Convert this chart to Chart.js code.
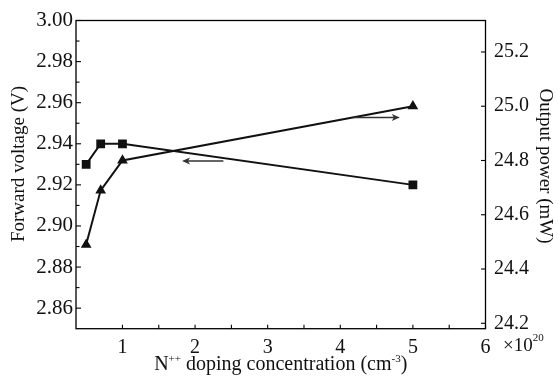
<!DOCTYPE html>
<html>
<head>
<meta charset="utf-8">
<script src="https://cdn.jsdelivr.net/npm/chart.js@4.4.1/dist/chart.umd.min.js"></script>
<style>
  body { margin: 0; background: #fff; }
  #wrap { width: 558px; height: 379px; }
</style>
</head>
<body>
<div id="wrap"><canvas id="doping" width="558" height="379"></canvas></div>
<script>
// doping concentration (x10^20 cm^-3)
const dopingConc = [0.5, 0.7, 1, 5];
// forward voltage (V), left axis
const forwardVoltage = [2.93, 2.94, 2.94, 2.92];
// output power (mW), right axis
const outputPower = [24.49, 24.69, 24.80, 25.00];

const xTicks = [1, 2, 3, 4, 5, 6];
const xMinorTicks = [1.5, 2.5, 3.5, 4.5, 5.5];
const voltTicks = [2.86, 2.88, 2.90, 2.92, 2.94, 2.96, 2.98, 3.00];
const voltMinorTicks = [2.87, 2.89, 2.91, 2.93, 2.95, 2.97, 2.99];
const powerTicks = [24.2, 24.4, 24.6, 24.8, 25.0, 25.2];

// arrows in data units: [xFrom, xTo, voltage level]
const arrowToVoltage = [2.39, 1.82, 2.9316];
const arrowToPower = [4.18, 4.82, 2.9528];

const serif = "'Liberation Serif', 'DejaVu Serif', serif";

const toPoints = (xs, ys) => xs.map((x, i) => ({x: x, y: ys[i]}));

const setTicks = (vals) => (scale) => {
  scale.ticks = vals.map(v => ({value: v}));
};

const decorPlugin = {
  id: 'decor',
  afterDraw(chart) {
    const {ctx, chartArea: a, scales} = chart;
    const sx = scales.x, sl = scales.y, sr = scales.y1;
    const seg = (x1, y1, x2, y2) => {
      ctx.beginPath(); ctx.moveTo(x1, y1); ctx.lineTo(x2, y2); ctx.stroke();
    };
    ctx.save();
    ctx.strokeStyle = '#000';
    ctx.lineWidth = 1.3;
    ctx.strokeRect(a.left, a.top, a.right - a.left, a.bottom - a.top);

    // inward tick marks
    ctx.lineWidth = 1.1;
    xTicks.concat(xMinorTicks).forEach(v => {
      const p = sx.getPixelForValue(v);
      seg(p, a.bottom, p, a.bottom - 4);
    });
    voltTicks.forEach(v => {
      const p = sl.getPixelForValue(v);
      seg(a.left, p, a.left + 5, p);
    });
    voltMinorTicks.forEach(v => {
      const p = sl.getPixelForValue(v);
      seg(a.left, p, a.left + 3.5, p);
    });
    powerTicks.forEach(v => {
      const p = sr.getPixelForValue(v);
      seg(a.right, p, a.right - 4.5, p);
    });

    // arrows
    const arrow = (spec) => {
      const x1 = sx.getPixelForValue(spec[0]);
      const x2 = sx.getPixelForValue(spec[1]);
      const y = sl.getPixelForValue(spec[2]);
      const dir = Math.sign(x2 - x1);
      ctx.strokeStyle = '#333';
      ctx.fillStyle = '#333';
      ctx.lineWidth = 1.6;
      seg(x1, y, x2 - dir * 5, y);
      ctx.beginPath();
      ctx.moveTo(x2, y);
      ctx.lineTo(x2 - dir * 8, y - 3.5);
      ctx.lineTo(x2 - dir * 6, y);
      ctx.lineTo(x2 - dir * 8, y + 3.5);
      ctx.closePath();
      ctx.fill();
    };
    arrow(arrowToVoltage);
    arrow(arrowToPower);

    // axis titles
    ctx.fillStyle = '#111';
    ctx.textBaseline = 'middle';
    ctx.textAlign = 'center';
    ctx.font = '19px ' + serif;
    ctx.save();
    ctx.translate(19, 164);
    ctx.rotate(-Math.PI / 2);
    ctx.fillText('Forward voltage (V)', 0, 0);
    ctx.restore();
    ctx.save();
    ctx.translate(545, 166);
    ctx.rotate(Math.PI / 2);
    ctx.fillText('Output power (mW)', 0, 0);
    ctx.restore();

    // x title with superscripts
    const parts = [
      ['N', 20, 0], ['++', 11, -8], [' doping concentration (cm', 20, 0], ['-3', 11, -8], [')', 20, 0]
    ];
    ctx.textAlign = 'left';
    ctx.textBaseline = 'alphabetic';
    let total = 0;
    parts.forEach(p => { ctx.font = p[1] + 'px ' + serif; total += ctx.measureText(p[0]).width; });
    let cx = (a.left + a.right) / 2 - total / 2;
    parts.forEach(p => {
      ctx.font = p[1] + 'px ' + serif;
      ctx.fillText(p[0], cx, 370 + p[2]);
      cx += ctx.measureText(p[0]).width;
    });

    // exponent label
    ctx.font = '19px ' + serif;
    ctx.fillText('\u00d710', 503, 351);
    const w = ctx.measureText('\u00d710').width;
    ctx.font = '11px ' + serif;
    ctx.fillText('20', 503 + w, 341);
    ctx.restore();
  }
};

const config = {
  type: 'line',
  data: {
    datasets: [
      {
        label: 'Forward voltage',
        data: toPoints(dopingConc, forwardVoltage),
        yAxisID: 'y',
        borderColor: '#111',
        backgroundColor: '#111',
        borderWidth: 2,
        pointStyle: 'rect',
        pointRadius: 4.8,
        tension: 0
      },
      {
        label: 'Output power',
        data: toPoints(dopingConc, outputPower),
        yAxisID: 'y1',
        borderColor: '#111',
        backgroundColor: '#111',
        borderWidth: 2,
        pointStyle: 'triangle',
        pointRadius: 4.2,
        tension: 0
      }
    ]
  },
  options: {
    responsive: false,
    animation: false,
    layout: {padding: {top: 11, left: 0, right: 0, bottom: 0}},
    plugins: {legend: {display: false}, tooltip: {enabled: false}},
    scales: {
      x: {
        type: 'linear',
        min: 0.36,
        max: 6,
        grid: {display: false, drawTicks: false},
        border: {display: false},
        afterBuildTicks: setTicks(xTicks),
        afterFit: (s) => { s.height = 50.3; },
        ticks: {
          padding: 7,
          color: '#111',
          font: {family: serif, size: 20},
          maxRotation: 0,
          callback: (v) => String(v)
        }
      },
      y: {
        position: 'left',
        min: 2.85,
        max: 3.0,
        grid: {display: false, drawTicks: false},
        border: {display: false},
        afterBuildTicks: setTicks(voltTicks),
        afterFit: (s) => { s.width = 76; },
        ticks: {
          padding: 3,
          color: '#111',
          font: {family: serif, size: 21},
          callback: (v) => v.toFixed(2)
        }
      },
      y1: {
        position: 'right',
        min: 24.18,
        max: 25.316,
        grid: {display: false, drawTicks: false},
        border: {display: false},
        afterBuildTicks: setTicks(powerTicks),
        afterFit: (s) => { s.width = 72.5; },
        ticks: {
          padding: 8.5,
          color: '#111',
          font: {family: serif, size: 20},
          callback: (v) => v.toFixed(1)
        }
      }
    }
  },
  plugins: [decorPlugin]
};

new Chart(document.getElementById('doping'), config);
</script>
</body>
</html>
